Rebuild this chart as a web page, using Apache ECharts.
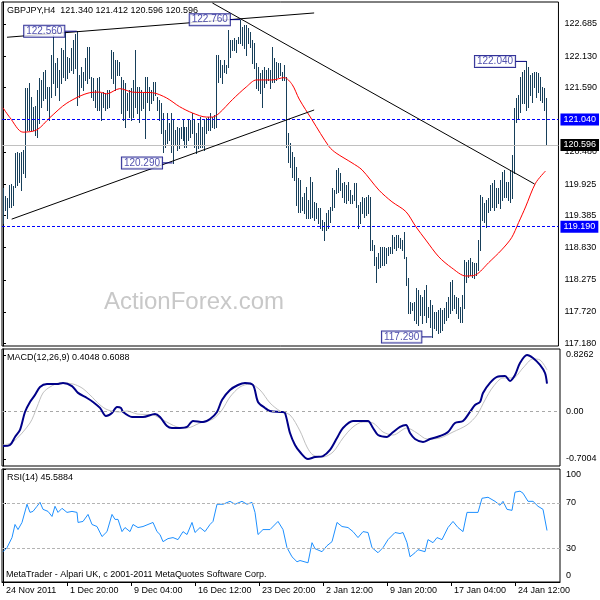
<!DOCTYPE html>
<html><head><meta charset="utf-8">
<script src="https://cdn.jsdelivr.net/npm/echarts@6/dist/echarts.min.js"></script>
<style>html,body{margin:0;padding:0;background:#fff}#c{width:600px;height:600px}</style>
</head><body><div id="c"></div>
<script>
// ---- data (GBPJPY H4 bars, index 0 = 24 Nov 2011) ----
const highs = [
119.86,119.72,119.69,119.91,119.93,119.89,120.46,120.48,120.46,120.48,
120.51,121.58,121.58,121.67,121.43,121.26,121.27,121.55,121.76,121.72,
121.86,121.89,121.60,121.60,122.15,122.50,122.01,122.10,121.89,122.27,
122.24,122.54,122.12,122.10,122.27,122.41,122.52,122.56,121.81,121.94,
121.86,122.10,122.29,122.29,121.77,121.76,121.55,121.76,121.77,121.50,
121.51,121.50,121.55,121.55,122.24,122.20,122.07,122.07,122.03,121.77,
121.72,121.67,121.50,121.55,121.58,121.72,122.24,121.60,121.60,121.55,
121.50,121.77,121.77,121.60,121.55,121.69,121.69,121.43,121.38,121.32,
121.15,120.86,121.15,120.98,121.15,121.03,120.86,120.91,120.89,120.91,
121.03,120.91,120.91,121.03,121.03,121.15,121.03,120.81,120.98,121.08,
120.91,121.03,121.07,121.08,121.15,121.08,121.12,122.15,122.15,122.07,
121.98,122.07,121.98,122.58,122.41,122.41,122.45,122.41,122.46,122.76,
122.63,122.67,122.67,122.62,122.55,122.41,122.36,122.01,121.94,121.84,
121.89,121.94,121.89,121.93,121.89,122.29,122.10,122.03,122.01,122.01,
121.86,121.98,121.77,120.81,120.63,120.48,120.39,120.22,120.03,119.99,
119.70,119.77,119.88,119.65,120.05,119.96,119.62,119.60,119.51,119.51,
119.31,119.27,119.43,119.48,119.53,119.86,119.82,120.17,120.20,120.12,
119.94,119.96,119.91,119.96,119.82,119.74,119.94,119.94,119.57,119.62,
119.70,119.69,119.70,119.74,119.70,118.96,118.88,118.67,118.74,118.84,
118.84,118.84,118.82,118.84,118.84,119.05,119.01,119.05,119.05,119.00,
118.96,119.10,118.67,118.31,117.89,117.88,117.89,118.13,118.10,118.01,
117.98,118.10,118.19,117.81,117.93,117.84,117.72,117.72,117.76,117.79,
117.76,117.79,117.89,117.98,118.24,118.27,118.01,117.98,117.96,117.81,
118.01,118.62,118.58,118.62,118.65,118.58,118.57,118.57,118.96,119.74,
119.70,119.60,119.65,119.69,119.91,119.94,119.99,119.86,119.86,119.99,
120.13,120.17,119.96,119.96,120.17,120.43,121.24,121.41,121.46,121.77,
121.86,121.89,122.04,121.94,121.81,121.84,121.86,121.86,121.84,121.77,
121.60,121.58,121.412];
const lows = [
119.26,119.48,119.34,119.53,119.53,119.57,119.88,119.91,119.96,119.82,
120.12,120.05,120.86,120.86,120.86,120.86,120.77,120.74,120.98,121.26,
121.38,121.41,121.20,121.03,121.43,121.67,121.46,121.60,121.38,121.67,
121.77,121.72,121.76,121.86,121.89,121.84,121.93,121.29,121.43,121.60,
121.55,121.72,121.67,121.76,121.43,121.38,121.26,121.20,121.20,121.03,
121.26,121.20,121.24,121.26,121.76,121.67,121.55,121.81,121.81,121.15,
121.03,120.91,121.20,121.08,121.03,121.08,121.26,121.15,121.00,121.20,
121.24,120.72,121.34,121.20,121.32,121.38,121.46,121.20,121.03,120.81,
120.48,120.57,120.63,120.69,120.48,120.29,120.60,120.51,120.55,120.72,
120.69,120.57,120.57,120.69,120.74,120.81,120.57,120.46,120.55,120.57,
120.57,120.51,120.81,120.86,120.86,120.91,120.89,120.91,121.69,121.77,
121.67,121.86,121.84,121.94,122.12,122.24,122.24,122.20,122.36,122.36,
122.32,122.27,122.15,122.36,122.29,122.01,121.93,121.58,121.55,121.50,
121.26,121.60,121.67,121.72,121.58,121.69,121.69,121.72,121.77,121.81,
121.72,121.72,120.57,120.31,120.22,120.05,119.99,119.57,119.45,119.45,
119.48,119.43,119.34,119.34,119.34,119.36,119.31,119.34,119.26,119.17,
119.13,118.96,119.13,119.17,119.27,119.48,119.53,119.77,119.79,119.82,
119.70,119.62,119.60,119.65,119.60,119.60,119.65,119.53,119.17,119.26,
119.43,119.36,119.39,119.43,118.79,118.79,118.53,118.24,118.48,118.50,
118.53,118.53,118.57,118.70,118.74,118.74,118.82,118.79,118.84,118.82,
118.79,118.65,118.19,117.70,117.70,117.76,117.58,117.53,117.50,117.67,
117.53,117.67,117.55,117.63,117.46,117.29,117.45,117.41,117.36,117.38,
117.41,117.53,117.58,117.63,117.70,117.76,117.79,117.70,117.62,117.55,
117.55,117.79,118.24,118.32,118.36,118.32,118.31,118.36,118.45,118.79,
119.31,119.27,119.19,119.45,119.48,119.53,119.48,119.53,119.60,119.51,
119.65,119.70,119.70,119.65,119.62,119.69,120.12,121.00,121.07,121.17,
121.32,121.32,121.20,121.26,121.46,121.34,121.60,121.43,121.51,121.38,
121.34,121.20,120.596];

// moving average (red) [barIndex, price]
const maPoints = [[0,121.24],[3.5,121.07],[10,120.82],[17,120.86],[23.5,121.07],[32,121.32],[43.5,121.50],[48.5,121.51],[52,121.48],[58.5,121.57],[65,121.51],[75,121.50],[82,121.41],[88.5,121.26],[95,121.15],[102,121.08],[105,121.08],[108.5,121.15],[115,121.38],[122,121.60],[127,121.72],[135,121.72],[141,121.76],[145,121.64],[148.5,121.39],[155,121.03],[163.5,120.57],[167,120.46],[175,120.29],[180,120.17],[188.5,119.82],[195,119.62],[202,119.45],[207,119.19],[212,118.96],[218.5,118.67],[225,118.48],[232,118.34],[237,118.36],[243.5,118.57],[250,118.79],[255,119.00],[258.5,119.26],[262,119.53],[267,119.94],[272,120.15]];

// MACD(12,26,9) main and signal [barIndex, value]
const macdPoints = [[0,-0.51],[3.5,-0.495],[6,-0.377],[8.5,-0.274],[11,-0.01],[13.5,0.137],[16,0.24],[18.5,0.357],[22,0.40],[27,0.40],[30,0.416],[34.5,0.37],[37.5,0.27],[42,0.195],[45,0.137],[48.5,0.049],[51.5,-0.069],[54.5,-0.025],[57,0.063],[59,0.048],[60,-0.01],[64.5,-0.084],[70,-0.084],[76,-0.04],[78.5,-0.084],[82,-0.216],[84.5,-0.245],[88.5,-0.245],[92,-0.23],[95,-0.142],[100,-0.157],[103.5,-0.113],[107,-0.01],[109.5,0.166],[113.5,0.313],[117.5,0.386],[121,0.416],[125,0.386],[127.5,0.137],[131,0.049],[133.5,0.004],[139.5,-0.01],[141,-0.025],[143.5,-0.319],[146,-0.495],[148.5,-0.598],[152.5,-0.70],[156,-0.671],[160,-0.657],[163.5,-0.568],[167,-0.392],[170,-0.245],[175,-0.142],[179.5,-0.142],[182.5,-0.142],[185,-0.245],[187.5,-0.348],[192,-0.377],[194.5,-0.319],[198.5,-0.23],[201.5,-0.201],[203.5,-0.319],[206,-0.407],[210,-0.451],[213.5,-0.407],[218.5,-0.363],[222.5,-0.304],[226,-0.172],[230,-0.142],[233.5,-0.01],[236,0.093],[238.5,0.137],[240,0.269],[243.5,0.416],[247,0.504],[251,0.518],[253.5,0.445],[256,0.533],[258.5,0.709],[262,0.8262],[265,0.783],[268.5,0.68],[271,0.562],[272,0.4048]];
const signalPoints = [[0,-0.495],[5,-0.451],[13.5,-0.172],[17,0.063],[20,0.269],[23.5,0.357],[28.5,0.416],[35,0.40],[39.5,0.342],[43.5,0.24],[48.5,0.093],[52.5,0.019],[58.5,-0.01],[62,0.004],[67,-0.04],[75,-0.054],[80,-0.128],[87,-0.23],[92,-0.245],[98.5,-0.172],[105,-0.113],[109.5,0.019],[113.5,0.21],[118.5,0.357],[123.5,0.40],[128.5,0.313],[133.5,0.122],[138.5,0.004],[143.5,-0.054],[148.5,-0.289],[152,-0.524],[155,-0.642],[160,-0.671],[165,-0.598],[170,-0.392],[175,-0.23],[180,-0.157],[185,-0.172],[190,-0.304],[195,-0.348],[202,-0.245],[207,-0.319],[212,-0.407],[218.5,-0.392],[225,-0.304],[232,-0.201],[237,-0.054],[241,0.166],[245,0.357],[250,0.489],[255,0.489],[260,0.636],[265,0.768],[268.5,0.753],[272,0.6088]];

// RSI(14) [barIndex, value]
const rsiPoints = [[0,26.8],[2,30.4],[4.5,39.3],[6,50.9],[7.5,46.4],[9.5,52.7],[12,68.8],[13.5,61.6],[15,62.5],[17,67.0],[18.5,70.5],[20,64.3],[22.5,62.5],[24.5,58.0],[26,67.0],[27.5,61.6],[29.5,65.2],[32,61.6],[34.5,62.5],[37,61.6],[37.5,52.7],[40,53.6],[42.5,59.8],[44.5,50.9],[47,49.1],[49.5,40.2],[52,44.6],[54.5,59.8],[56,55.4],[57.5,55.4],[59.5,44.6],[61,48.2],[63.5,44.6],[65,50.9],[67.5,48.2],[70,49.1],[72.5,50.9],[75,52.7],[77,44.6],[78.5,42.0],[80,35.7],[82.5,38.4],[85,39.3],[87.5,37.5],[90,44.6],[92,42.0],[94.5,52.7],[96,43.8],[98.5,48.2],[101,44.6],[103.5,50.9],[105,53.6],[107,68.8],[110,68.8],[113.5,71.4],[116,68.8],[119.5,71.4],[122,68.8],[124.5,70.5],[126,61.6],[127.5,42.0],[130,46.4],[133.5,46.4],[137.5,53.6],[140,46.4],[142,30.4],[144.5,22.3],[147,17.9],[148.5,19.0],[152.5,17.0],[154.5,34.8],[156,29.5],[159.5,26.8],[162,32.1],[164.5,35.7],[167,52.7],[169.5,49.1],[172.5,48.2],[175,44.6],[177.5,39.3],[180,44.6],[182.5,43.8],[184.5,30.4],[187.5,25.9],[190,30.4],[192.5,37.5],[196,43.8],[198.5,42.9],[200,43.8],[202,34.8],[203.5,22.3],[206,25.9],[207.5,28.6],[211,26.8],[212.5,37.5],[215,34.8],[217,39.3],[219.5,37.5],[222.5,48.2],[225,53.6],[227.5,48.2],[230,44.6],[232,61.6],[235,61.6],[237.5,61.6],[239.5,74.1],[242.5,75.0],[246,71.4],[248.5,67.9],[250,71.4],[252,64.3],[254.5,63.4],[256,79.5],[258.5,80.4],[260,78.6],[262.5,71.4],[265,71.4],[267.5,67.0],[270,64.3],[272,45.5884]];

// axis ticks
const priceTicks = [117.18,117.72,118.275,118.83,119.385,119.925,120.48,121.04,121.59,122.13,122.685];
const macdTicks = [-0.7004,0,0.8262];
const rsiTicks = [0,30,70,100];
const timeTickIdx = [0,32,64,96,128,160,192,224,256];
const timeLabels = ['24 Nov 2011','1 Dec 20:00','9 Dec 04:00','16 Dec 12:00','23 Dec 20:00','2 Jan 12:00','9 Jan 20:00','17 Jan 04:00','24 Jan 12:00'];

// levels & annotations
const levelPrices = [121.04, 119.19];
const currentPrice = 120.596;
const markPrices = [122.56, 122.76, 120.29, 117.29, 122.04];
const markBarIdx = [37, 119, 85, 215, 262.5];
const markBoxIdx = [31, 114, 80, 210, 257];
const trendLines = [
  [[2,122.456],[156,122.875]],
  [[4.35,119.32],[156,121.202]],
  [[105,123.047],[266.5,119.926]]
];
const levelsRsi = [30,70];

const FONT = '"Liberation Sans", Arial, sans-serif';
const BAR_COLOR = '#173f5a';

const chart = echarts.init(document.getElementById('c'), null, {renderer:'canvas'});

const xBase = {type:'value', min:-0.5, max:278.5, splitLine:{show:false}};
const bars = highs.map((h,i)=>[i,h,lows[i]]);

const series = [];
series.push({
  type:'custom', xAxisIndex:0, yAxisIndex:0, clip:true, silent:true,
  data: bars,
  renderItem: function(params, api){
    const a = api.coord([api.value(0), api.value(1)]);
    const b = api.coord([api.value(0), api.value(2)]);
    const x = Math.round(a[0]) + 0.5;
    return {type:'line', shape:{x1:x, y1:Math.round(a[1]), x2:x, y2:Math.round(b[1])+1},
      style:{stroke:BAR_COLOR, lineWidth:1}};
  },
  z: 3
});
series.push({
  type:'line', xAxisIndex:0, yAxisIndex:0, data: maPoints, showSymbol:false, symbol:'none',
  smooth:0.3, lineStyle:{color:'#ff0000', width:1}, silent:true, z:4,
  markLine:{
    symbol:['none','none'], silent:true, animation:false,
    data:[
      {yAxis: levelPrices[0], lineStyle:{color:'#0000ff', type:[3,2], width:1},
       label:{show:true, position:'end', formatter: levelPrices[0].toFixed(3), backgroundColor:'#0000ff', color:'#fff', fontSize:9, fontFamily:FONT, padding:[2,3,1,3], distance:2}},
      {yAxis: levelPrices[1], lineStyle:{color:'#0000ff', type:[3,2], width:1},
       label:{show:true, position:'end', formatter: levelPrices[1].toFixed(3), backgroundColor:'#0000ff', color:'#fff', fontSize:9, fontFamily:FONT, padding:[2,3,1,3], distance:2}},
      {yAxis: currentPrice, lineStyle:{color:'#c0c0c0', type:'solid', width:1},
       label:{show:true, position:'end', formatter: currentPrice.toFixed(3), backgroundColor:'#000', color:'#fff', fontSize:9, fontFamily:FONT, padding:[2,3,1,3], distance:2}}
    ]
  }
});
trendLines.forEach(tl=>{
  series.push({type:'line', xAxisIndex:0, yAxisIndex:0, data:tl, symbol:'none', silent:true,
    lineStyle:{color:'#000', width:1}, clip:true, z:5});
});
markPrices.forEach((p,k)=>{
  series.push({type:'line', xAxisIndex:0, yAxisIndex:0, data:[[markBoxIdx[k],p],[markBarIdx[k],p]],
    symbol:'none', silent:true, lineStyle:{color:'#000080', width:1}, z:6});
});
series.push({
  type:'scatter', xAxisIndex:0, yAxisIndex:0, silent:true, symbolSize:1,
  itemStyle:{color:'rgba(0,0,0,0)'}, z:7,
  data: markPrices.map((p,k)=>[markBoxIdx[k], p]),
  label:{show:true, position:'left', distance:0,
    formatter: (pr)=>pr.value[1].toFixed(3),
    backgroundColor:'#fff', borderColor:'#000080', borderWidth:1, padding:[1,2,0,2],
    color:'#24249a', fontSize:10, fontFamily:FONT, lineHeight:10}
});
// MACD
series.push({type:'line', xAxisIndex:1, yAxisIndex:1, data:signalPoints, symbol:'none', smooth:0.3, silent:true,
  lineStyle:{color:'#c0c0c0', width:1}, z:3,
  markLine:{symbol:['none','none'], silent:true, animation:false, label:{show:false},
    data:[{yAxis:0}], lineStyle:{color:'#a8a8a8', type:[3,3], width:1}}});
series.push({type:'line', xAxisIndex:1, yAxisIndex:1, data:macdPoints, symbol:'none', smooth:0.3, silent:true,
  lineStyle:{color:'#000088', width:2}, z:4});
// RSI
series.push({type:'line', xAxisIndex:2, yAxisIndex:2, data:rsiPoints, symbol:'none', silent:true,
  lineStyle:{color:'#1e90ff', width:1}, z:4,
  markLine:{symbol:['none','none'], silent:true, animation:false, label:{show:false},
    data: levelsRsi.map(v=>({yAxis:v})), lineStyle:{color:'#b4b4b4', type:[3,2], width:1}}});

const yLabel = {fontSize:9, fontFamily:FONT, color:'#000', margin:6};
const option = {
  animation:false,
  backgroundColor:'#fff',
  grid:[
    {left:2, top:2, width:558, height:344, show:true, borderColor:'#000', borderWidth:1, backgroundColor:'transparent'},
    {left:2, top:349, width:558, height:117, show:true, borderColor:'#000', borderWidth:1},
    {left:2, top:469, width:558, height:113, show:true, borderColor:'#000', borderWidth:1}
  ],
  xAxis:[
    Object.assign({gridIndex:0, show:false}, xBase),
    Object.assign({gridIndex:1, show:false}, xBase),
    Object.assign({gridIndex:2,
      axisLine:{show:true, lineStyle:{color:'#000'}},
      axisTick:{show:true, customValues: timeTickIdx, length:4, lineStyle:{color:'#000'}},
      axisLabel:{show:true, customValues: timeTickIdx, align:'left', padding:[0,0,0,3], margin:4,
        fontSize:9, fontFamily:FONT, color:'#000',
        formatter:(v)=>{const k=timeTickIdx.indexOf(Math.round(v)); return k>=0?timeLabels[k]:'';}}
    }, xBase)
  ],
  yAxis:[
    {gridIndex:0, type:'value', position:'right', min:117.133, max:123.064, splitLine:{show:false},
      axisLine:{show:true, lineStyle:{color:'#000'}},
      axisTick:{show:true, customValues:priceTicks, length:3, lineStyle:{color:'#000'}},
      axisLabel:Object.assign({customValues:priceTicks, formatter:(v)=>v.toFixed(3)}, yLabel)},
    {gridIndex:1, type:'value', position:'right', min:-0.803, max:0.914, splitLine:{show:false},
      axisLine:{show:true, lineStyle:{color:'#000'}},
      axisTick:{show:true, customValues:macdTicks, length:3, lineStyle:{color:'#000'}},
      axisLabel:Object.assign({customValues:macdTicks, formatter:(v)=> Math.abs(v)<1e-9 ? '0.00' : v.toFixed(4)}, yLabel)},
    {gridIndex:2, type:'value', position:'right', min:0, max:100, splitLine:{show:false},
      axisLine:{show:true, lineStyle:{color:'#000'}},
      axisTick:{show:true, customValues:rsiTicks, length:3, lineStyle:{color:'#000'}},
      axisLabel:Object.assign({customValues:rsiTicks,
        formatter:(v)=> v===100 ? '{t|100}' : (v===0 ? '{b|0}' : String(v)),
        rich:{t:{padding:[12,0,0,0], fontSize:9, fontFamily:FONT, color:'#000'},
              b:{padding:[0,0,12,0], fontSize:9, fontFamily:FONT, color:'#000'}}}, yLabel)}
  ],
  graphic:[
    {type:'text', silent:true, z:1, style:{x:104, y:302, text:'ActionForex.com', font:'24px "Liberation Sans", Arial, sans-serif', fill:'#c8c8c8', verticalAlign:'middle'}},
    {type:'text', silent:true, z:10, style:{x:7, y:10.5, text:'GBPJPY,H4  121.340 121.412 120.596 120.596', font:'9px '+FONT, fill:'#000', verticalAlign:'middle'}},
    {type:'text', silent:true, z:10, style:{x:7, y:358, text:'MACD(12,26,9) 0.4048 0.6088', font:'9px '+FONT, fill:'#000', verticalAlign:'middle'}},
    {type:'text', silent:true, z:10, style:{x:7, y:478, text:'RSI(14) 45.5884', font:'9px '+FONT, fill:'#000', verticalAlign:'middle'}},
    {type:'text', silent:true, z:10, style:{x:6, y:575, text:'MetaTrader - Alpari UK, c 2001-2011 MetaQuotes Software Corp.', font:'9px '+FONT, fill:'#000', verticalAlign:'middle'}}
  ],
  series: series
};
chart.setOption(option);
</script>
</body></html>
